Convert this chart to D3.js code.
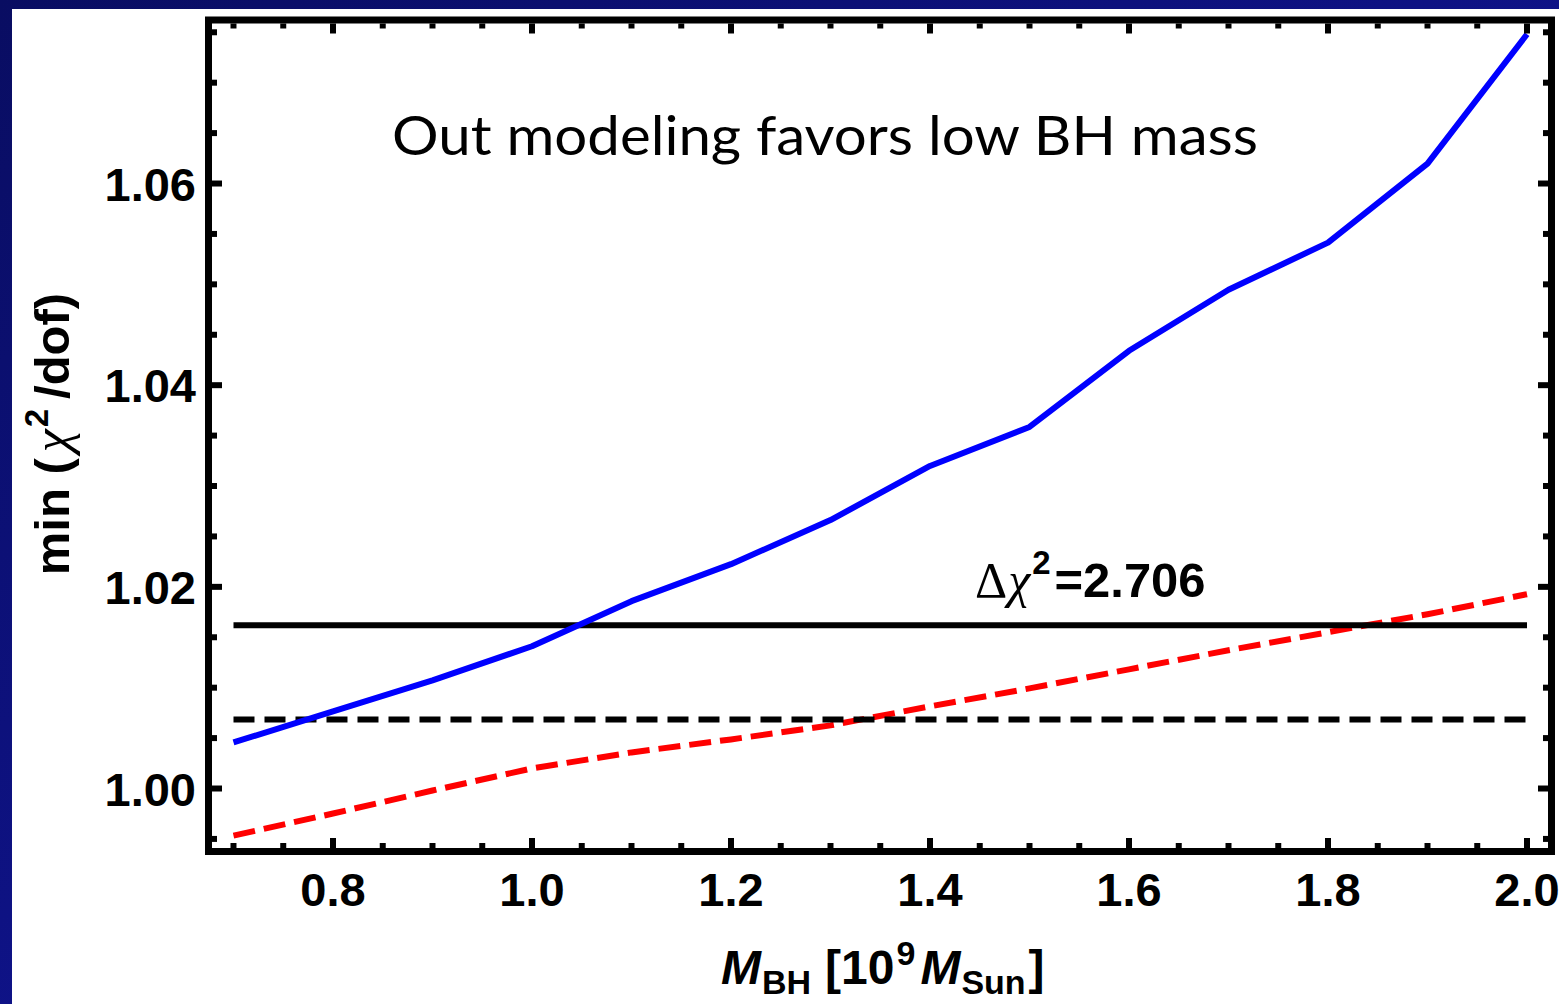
<!DOCTYPE html>
<html><head><meta charset="utf-8">
<script src="https://cdn.jsdelivr.net/npm/d3@7"></script>
<style>html,body{margin:0;padding:0;background:#0c1070;overflow:hidden}</style>
</head><body>
<svg id="c" width="1559" height="1004"></svg>
<script>
// ---- data ----
const massBH = [0.7,0.8,0.9,1.0,1.1,1.2,1.3,1.4,1.5,1.6,1.7,1.8,1.9,2.0];
const chi2Blue = [1.00457,1.00765,1.01073,1.01411,1.01858,1.02225,1.02662,1.03199,1.03586,1.04341,1.04947,1.05414,1.06198,1.0748];
const chi2Red  = [0.99533,0.99752,0.9998,1.00199,1.00358,1.00487,1.00626,1.00815,1.00993,1.01182,1.01371,1.0155,1.01728,1.01927];
const thresholdSolid = 1.01619;
const thresholdDashed = 1.00685;
const xTickLabels = [0.8,1.0,1.2,1.4,1.6,1.8,2.0];
const yTickLabels = [1.00,1.02,1.04,1.06];
const titleText = "Out modeling favors low BH mass";

const svg = d3.select("#c");
const defs = svg.append("defs");
const g1 = defs.append("linearGradient").attr("id","bg").attr("x1","0").attr("y1","0").attr("x2","1").attr("y2","1");
g1.append("stop").attr("offset","0").attr("stop-color","#090d62");
g1.append("stop").attr("offset","1").attr("stop-color","#1418aa");
svg.append("rect").attr("width",1559).attr("height",1004).attr("fill","url(#bg)");
svg.append("rect").attr("x",12).attr("y",9).attr("width",1547).attr("height",995).attr("fill","#fff");

const x = d3.scaleLinear().domain([0.6784,2.0211]).range([212,1548]);
const y = d3.scaleLinear().domain([0.9941,1.07587]).range([848,23.5]);

const ff = "'Liberation Sans', Arial, Helvetica, sans-serif";

// lines
const line = d3.line().x((d,i)=>x(massBH[i])).y(d=>y(d));
svg.append("path").datum(chi2Red).attr("d",line).attr("fill","none")
  .attr("stroke","#ff0000").attr("stroke-width",6).attr("stroke-dasharray","22,9");
svg.append("line").attr("x1",x(0.7)).attr("x2",x(2.0)).attr("y1",y(thresholdSolid)).attr("y2",y(thresholdSolid))
  .attr("stroke","#000").attr("stroke-width",6);
svg.append("line").attr("x1",x(0.7)).attr("x2",x(2.0)).attr("y1",y(thresholdDashed)).attr("y2",y(thresholdDashed))
  .attr("stroke","#000").attr("stroke-width",6).attr("stroke-dasharray","21,10");
svg.append("path").datum(chi2Blue).attr("d",line).attr("fill","none")
  .attr("stroke","#0000ff").attr("stroke-width",6).attr("stroke-linejoin","round");

// frame ticks
const xMinor = d3.range(0.70,2.0001,0.05).map(v=>+v.toFixed(2));
const yMinor = d3.range(0.995,1.0751,0.005).map(v=>+v.toFixed(3));
const isMajX = v => Math.abs(v*5 - Math.round(v*5))<1e-6;
const isMajY = v => Math.abs(v*50 - Math.round(v*50))<1e-6;
const tg = svg.append("g").attr("stroke","#000").attr("stroke-width",6);
const [x0,x1] = x.range(), [y0,y1] = [y.range()[1], y.range()[0]];
xMinor.forEach(v=>{
  const L = isMajX(v)?10:5;
  tg.append("line").attr("x1",x(v)).attr("x2",x(v)).attr("y1",y1).attr("y2",y1-L);
  tg.append("line").attr("x1",x(v)).attr("x2",x(v)).attr("y1",y0).attr("y2",y0+L);
});
yMinor.forEach(v=>{
  const L = isMajY(v)?10:5;
  tg.append("line").attr("y1",y(v)).attr("y2",y(v)).attr("x1",x0).attr("x2",x0+L);
  tg.append("line").attr("y1",y(v)).attr("y2",y(v)).attr("x1",x1).attr("x2",x1-L);
});
svg.append("rect").attr("x",x0-3.5).attr("y",y0-3.5).attr("width",x1-x0+7).attr("height",y1-y0+7)
  .attr("fill","none").attr("stroke","#000").attr("stroke-width",7);

// tick labels
svg.append("g").selectAll("text").data(xTickLabels).join("text")
  .attr("x",d=>x(d)).attr("y",906).attr("text-anchor","middle")
  .attr("font-family",ff).attr("font-weight","bold").attr("font-size",47).attr("fill","#000")
  .text(d=>d.toFixed(1));
svg.append("g").selectAll("text").data(yTickLabels).join("text")
  .attr("x",196).attr("y",d=>y(d)+17).attr("text-anchor","end")
  .attr("font-family",ff).attr("font-weight","bold").attr("font-size",47).attr("fill","#000")
  .text(d=>d.toFixed(2));

// title
svg.append("text").attr("x",392).attr("y",155).attr("font-family","Lato, 'Open Sans', sans-serif")
  .attr("font-size",54).attr("fill","#000").attr("textLength",866).attr("lengthAdjust","spacingAndGlyphs")
  .text(titleText);

// delta chi^2 label
const dl = svg.append("text").attr("x",975).attr("y",597).attr("fill","#000").attr("font-size",50);
dl.append("tspan").attr("font-family","'Liberation Serif', serif").text("Δ");
dl.append("tspan").attr("font-family","'Liberation Serif', serif").attr("font-style","italic").attr("dx",1).text("χ");
dl.append("tspan").attr("font-family",ff).attr("font-weight","bold").attr("font-size",33).attr("dy",-23).attr("dx",2).text("2");
dl.append("tspan").attr("font-family",ff).attr("font-weight","bold").attr("font-size",49).attr("dy",23).attr("dx",4)
  .attr("textLength",151).attr("lengthAdjust","spacingAndGlyphs").text("=2.706");

// x axis label
const xl = svg.append("text").attr("x",721).attr("y",984).attr("fill","#000")
  .attr("font-family",ff).attr("font-weight","bold").attr("font-size",48);
xl.append("tspan").attr("font-style","italic").text("M");
xl.append("tspan").attr("font-size",34).attr("dy",10).attr("dx",1).text("BH");
xl.append("tspan").attr("dy",-10).attr("dx",14).text("[10");
xl.append("tspan").attr("font-size",34).attr("dy",-19).attr("dx",2).text("9");
xl.append("tspan").attr("font-style","italic").attr("dy",19).attr("dx",5).text("M");
xl.append("tspan").attr("font-size",34).attr("dy",10).attr("dx",1).text("Sun");
xl.append("tspan").attr("dy",-10).attr("dx",3).text("]");

// y axis label
const yl = svg.append("text").attr("transform","translate(69,434) rotate(-90)").attr("text-anchor","middle")
  .attr("fill","#000").attr("font-family",ff).attr("font-weight","bold").attr("font-size",49);
yl.append("tspan").text("min (");
yl.append("tspan").attr("font-family","'Liberation Serif', serif").attr("font-style","italic").attr("font-weight","normal").attr("font-size",52).attr("dx",6).text("χ");
yl.append("tspan").attr("font-size",33).attr("dy",-21).attr("dx",2).text("2");
yl.append("tspan").attr("dy",21).attr("dx",10).text("/dof)");
</script>
</body></html>
